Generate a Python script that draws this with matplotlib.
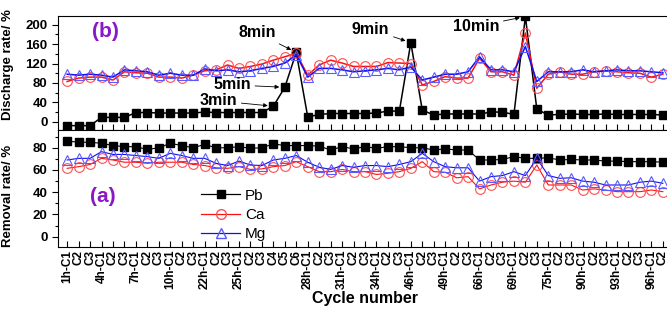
import matplotlib
matplotlib.use("Agg")
import matplotlib.pyplot as plt
from matplotlib.lines import Line2D
from matplotlib.ticker import MultipleLocator

plt.rcParams['font.family'] = ['Liberation Sans', 'DejaVu Sans']

cycles = ["1h-C1", "C2", "C3", "4h-C1", "C2", "C3", "7h-C1", "C2", "C3",
          "10h-C1", "C2", "C3", "22h-C1", "C2", "C3", "25h-C1", "C2", "C3",
          "C4", "C5", "C6", "28h-C1", "C2", "C3", "31h-C1", "C2", "C3",
          "34h-C1", "C2", "C3", "46h-C1", "C2", "C3", "49h-C1", "C2", "C3",
          "66h-C1", "C2", "C3", "69h-C1", "C2", "C3", "75h-C1", "C2", "C3",
          "90h-C1", "C2", "C3", "93h-C1", "C2", "C3", "96h-C1", "C2"]

# (b) discharge rate
dis_pb = [-8, -8, -8, 9, 9, 9, 19, 19, 18, 18, 18, 18, 20, 19, 19, 19, 19, 19,
          32, 71, 143, 10, 15, 17, 17, 17, 17, 18, 22, 22, 163, 24, 14, 16, 16, 16,
          16, 20, 20, 15, 217, 26, 14, 15, 16, 15, 15, 16, 15, 15, 15, 15, 14]
dis_ca = [83, 90, 92, 92, 86, 103, 101, 100, 92, 92, 90, 96, 105, 107, 117, 110, 114, 119,
          127, 134, 141, 96, 117, 127, 121, 114, 114, 114, 122, 121, 120, 76, 83, 93, 90, 90,
          131, 103, 103, 96, 183, 69, 98, 103, 98, 98, 103, 105, 103, 101, 100, 92, 98]
dis_mg = [98, 96, 98, 96, 92, 107, 105, 103, 96, 100, 96, 96, 109, 105, 107, 103, 105, 110,
          114, 121, 138, 92, 110, 110, 107, 103, 105, 107, 110, 107, 113, 86, 92, 98, 98, 103,
          134, 107, 107, 103, 155, 83, 103, 103, 103, 107, 103, 105, 107, 105, 105, 103, 101]

# (a) removal rate
rem_pb = [86, 85, 85, 84, 82, 81, 81, 78.5, 80, 84, 82, 80, 83, 80, 80, 81, 79.5, 80,
          83.5, 82, 82, 82, 81.5, 78, 81, 79, 81, 79.5, 81, 81, 80, 80, 78, 79, 78, 78,
          69, 69, 69.5, 72, 70.5, 70.5, 71, 69, 69.5, 69, 69, 68, 68, 67.5, 67.5, 67.5, 67]
rem_ca = [61.5, 63, 65, 70.5, 69, 67, 67, 66, 67, 67, 67, 65, 64, 62, 61.5, 63, 60.5, 61,
          63, 64, 67.5, 63, 58.5, 58.5, 60.5, 58.5, 58.5, 56, 57, 58.5, 61.5, 67.5, 58.5, 58, 53, 54,
          43, 46.5, 49, 50, 49, 64.5, 46.5, 46.5, 46.5, 42, 43, 42, 40.5, 40.5, 40.5, 42, 40.5]
rem_mg = [69, 70.5, 70.5, 76.5, 74, 74, 73, 72, 70.5, 75, 73, 70.5, 70.5, 66, 64, 68, 64.5, 64,
          69, 70.5, 73, 67, 62.5, 60.5, 64, 62.5, 64, 64, 63, 65, 67.5, 75, 67.5, 63, 62, 62,
          50, 54, 55, 58.5, 55, 70.5, 55, 52.5, 53, 50, 49, 46.5, 46.5, 46.5, 49, 50, 48]

series_names = ["Pb", "Ca", "Mg"]

x = list(range(len(cycles)))
W, H = 667, 323
fig = plt.figure(figsize=(W / 100, H / 100), dpi=100)

left = 58 / W
right = 672 / W
axb = fig.add_axes([left, 1 - 130 / H, right - left, (130 - 16) / H])
axa = fig.add_axes([left, 1 - 247 / H, right - left, (247 - 130) / H])

purple = '#8a18c8'
red = '#ff1010'
blue = '#1010ee'


def draw(ax, pb, ca, mg, lw):
    ax.plot(x, pb, color='black', lw=lw, marker='s', ms=6.2, mfc='black', mec='black', zorder=3)
    ax.plot(x, ca, color=red, lw=lw, marker='o', ms=7, mfc='none', mec='#ff5050', mew=0.8, zorder=4)
    ax.plot(x, mg, color=blue, lw=lw, marker='^', ms=7, mfc='none', mec='#5a5aff', mew=0.8, zorder=5)


draw(axb, dis_pb, dis_ca, dis_mg, 1.1)
draw(axa, rem_pb, rem_ca, rem_mg, 0.8)

for ax in (axb, axa):
    ax.set_xlim(-0.8, 52.8)
    ax.set_xticks(x)
    ax.tick_params(axis='x', direction='in', length=4, width=0.8, top=False)
    ax.tick_params(axis='y', which='major', direction='out', length=4, width=0.8,
                   labelsize=9.5)
    ax.tick_params(axis='y', which='minor', direction='out', length=2.5, width=0.8)
    for s in ax.spines.values():
        s.set_linewidth(0.8)

axb.set_ylim(-17, 218)
axb.set_yticks([0, 40, 80, 120, 160, 200])
axb.yaxis.set_minor_locator(MultipleLocator(20))
axb.set_xticklabels([])
axb.set_yticklabels(['0', '40', '80', '120', '160', '200'], fontweight='bold', fontsize=9.5)

axa.set_ylim(-9.3, 96)
axa.set_yticks([0, 20, 40, 60, 80])
axa.yaxis.set_minor_locator(MultipleLocator(10))
axa.set_yticklabels(['0', '20', '40', '60', '80'], fontweight='bold', fontsize=9.5)
axa.set_xticklabels(cycles, rotation=90, fontsize=8.5, fontweight='bold')
axa.tick_params(axis='x', pad=2)

axb.set_ylabel('Discharge rate/ %', fontsize=9.5, fontweight='bold')
axa.set_ylabel('Removal rate/ %', fontsize=9.5, fontweight='bold')
axb.yaxis.set_label_coords(-0.072, 0.57)
axa.yaxis.set_label_coords(-0.072, 0.44)
axa.set_xlabel('Cycle number', fontsize=11.5, fontweight='bold', labelpad=1)

axb.text(0.077, 0.86, '(b)', transform=axb.transAxes, color=purple, fontsize=15,
         fontweight='bold', ha='center', va='center')
axa.text(0.073, 0.43, '(a)', transform=axa.transAxes, color=purple, fontsize=15,
         fontweight='bold', ha='center', va='center')

arrow = dict(arrowstyle='-|>', color='black', lw=0.6, mutation_scale=6,
             shrinkA=1, shrinkB=4)
ann = [("8min", 20, 16.6, 183),
       ("5min", 19, 14.4, 76),
       ("3min", 18, 13.2, 43),
       ("9min", 30, 26.5, 191),
       ("10min", 40, 35.7, 196)]
for txt, i, tx, ty in ann:
    axb.annotate(txt, xy=(i, dis_pb[i]), xytext=(tx, ty), textcoords='data',
                 fontsize=11.5, fontweight='bold', ha='center', va='center',
                 arrowprops=arrow, zorder=6)

handles = [
    Line2D([], [], color='black', lw=0.9, marker='s', ms=6.2, mfc='black'),
    Line2D([], [], color=red, lw=0.9, marker='o', ms=7, mfc='none', mec='#ff5050'),
    Line2D([], [], color=blue, lw=0.9, marker='^', ms=7, mfc='none', mec='#5a5aff'),
]
axa.legend(handles, series_names, frameon=False, loc='upper left',
           bbox_to_anchor=((190 - 58) / 614, (247 - 178) / 117), fontsize=11,
           handlelength=2.6, handletextpad=0.3, labelspacing=0.35, borderpad=0.2)

fig.savefig('out.png', dpi=100)
